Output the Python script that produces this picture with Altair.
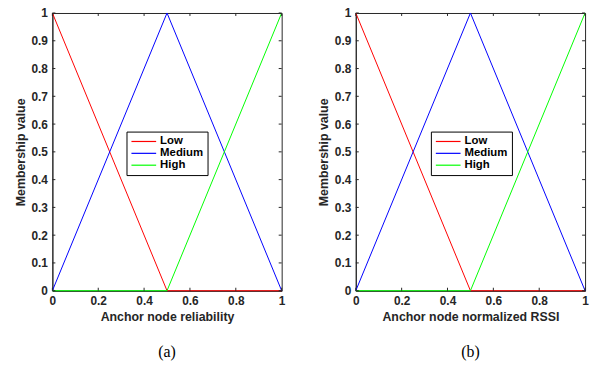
import altair as alt
import pandas as pd

x_vals = [0.0, 0.5, 1.0]
low_vals = [1.0, 0.0, 0.0]
medium_vals = [0.0, 1.0, 0.0]
high_vals = [0.0, 0.0, 1.0]
series_names = ["Low", "Medium", "High"]
series_colors = ["#ff0000", "#0000ff", "#00ff00"]
x_ticks = [0, 0.2, 0.4, 0.6, 0.8, 1.0]
y_ticks = [0, 0.1, 0.2, 0.3, 0.4, 0.5, 0.6, 0.7, 0.8, 0.9, 1.0]
x_titles = ["Anchor node reliability", "Anchor node normalized RSSI"]
captions = ["(a)", "(b)"]

rows = []
for name, vals in zip(series_names, [low_vals, medium_vals, high_vals]):
    for xv, yv in zip(x_vals, vals):
        rows.append({"x": xv, "y": yv, "series": name})
df = pd.DataFrame(rows)
xt = pd.DataFrame({"x": x_ticks})
yt = pd.DataFrame({"y": y_ticks})

W, H = 232, 281
TXT = "#262626"
FONT = "Liberation Sans"


def fmt_axis(ticks, pad, title, tpad):
    return alt.Axis(values=ticks, tickSize=0, grid=False, labelFont=FONT,
                    labelFontWeight="bold", labelFontSize=12, labelColor=TXT,
                    titleFont=FONT, titleFontWeight="bold", titleFontSize=12.5,
                    titleColor=TXT, domainColor=TXT, labelPadding=pad,
                    labelOverlap=False, labelFlush=False, title=title,
                    titlePadding=tpad,
                    labelExpr="format(datum.value, '.1~f')")


def panel(xtitle, caption, lx):
    xs = alt.Scale(domain=[0, 1], nice=False, zero=False)
    ys = alt.Scale(domain=[0, 1], nice=False, zero=False)
    xax = fmt_axis(x_ticks, 5, xtitle, 4)
    yax = fmt_axis(y_ticks, 5, "Membership value", 4)
    lines = alt.Chart(df).mark_line(strokeWidth=1, clip=False).encode(
        x=alt.X("x:Q", scale=xs, axis=xax),
        y=alt.Y("y:Q", scale=ys, axis=yax),
        color=alt.Color("series:N",
                        scale=alt.Scale(domain=series_names, range=series_colors),
                        legend=alt.Legend(title=None, orient="none", legendX=lx,
                                          legendY=120, symbolType="M-1,0H4",
                                          symbolSize=100, symbolStrokeWidth=1.2,
                                          labelFont=FONT, labelFontWeight="bold",
                                          labelFontSize=11.5, labelColor="black",
                                          strokeColor="black", fillColor="white",
                                          padding=4, rowPadding=0,
                                          labelOffset=18, cornerRadius=0)),
        detail="series:N",
    )
    tb = alt.Chart(xt).mark_rule(color=TXT, strokeWidth=1).encode(
        x=alt.X("x:Q", scale=xs, axis=xax), y=alt.value(H), y2=alt.value(H - 3))
    tt = alt.Chart(xt).mark_rule(color=TXT, strokeWidth=1).encode(
        x=alt.X("x:Q", scale=xs, axis=xax), y=alt.value(0), y2=alt.value(3))
    tl = alt.Chart(yt).mark_rule(color=TXT, strokeWidth=1).encode(
        y=alt.Y("y:Q", scale=ys, axis=yax), x=alt.value(0), x2=alt.value(3))
    tr = alt.Chart(yt).mark_rule(color=TXT, strokeWidth=1).encode(
        y=alt.Y("y:Q", scale=ys, axis=yax), x=alt.value(W), x2=alt.value(W - 3))
    return alt.layer(lines, tb, tt, tl, tr).properties(
        width=W, height=H,
        title=alt.TitleParams(caption, orient="bottom", font="Liberation Serif",
                              fontSize=16, fontWeight="normal", color="black",
                              offset=22, anchor="middle"))


chart = alt.hconcat(
    panel(x_titles[0], captions[0], 75),
    panel(x_titles[1], captions[1], 76),
    spacing=31,
).resolve_scale(color="independent").resolve_legend(color="independent").configure_view(
    stroke=TXT, strokeWidth=1).properties(
    padding={"left": 13, "top": 4, "right": 2, "bottom": 0},
    background="white",
)

chart.save("out.html", embed_options={"renderer": "svg", "actions": False})
